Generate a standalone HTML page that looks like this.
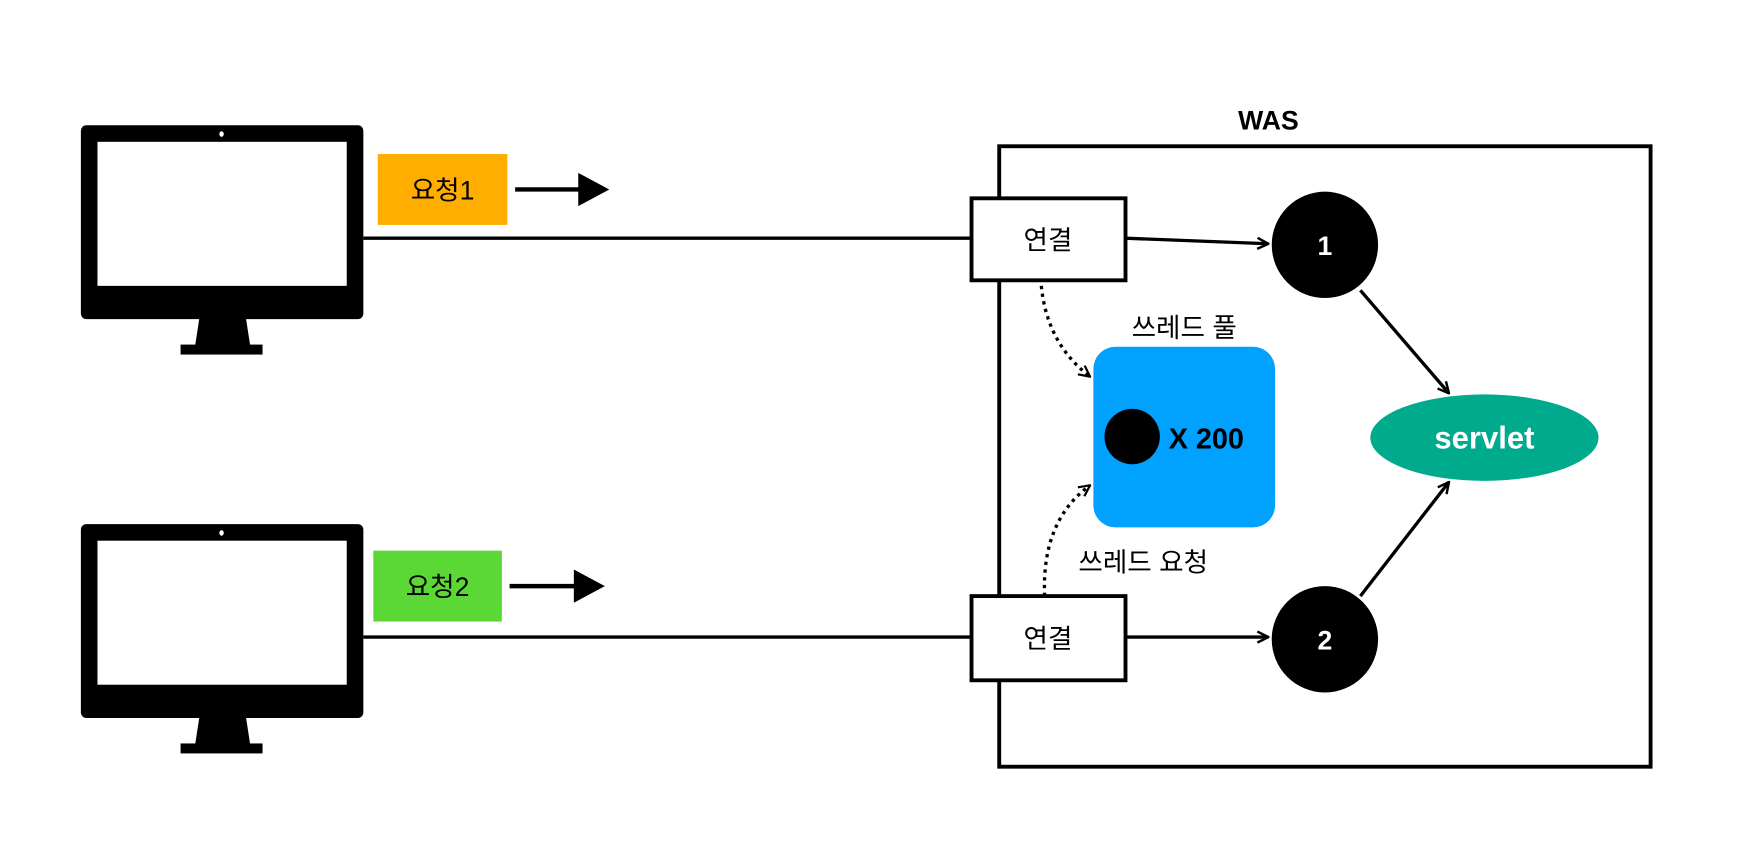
<!DOCTYPE html>
<html><head><meta charset="utf-8"><style>
html,body{margin:0;padding:0;background:#fff;}
svg{display:block;}
text{font-family:"Liberation Sans","Noto Sans CJK KR",sans-serif;}
</style></head><body>
<svg width="1737" height="862" viewBox="0 0 1568 778" preserveAspectRatio="none" xmlns="http://www.w3.org/2000/svg">
<defs>
<marker id="a" viewBox="0 0 12 12" refX="11" refY="6" markerWidth="12" markerHeight="12" markerUnits="userSpaceOnUse" orient="auto">
<path d="M1,1 L11,6 L1,11" fill="none" stroke="#000" stroke-width="2.2"/>
</marker>
<marker id="b" viewBox="0 0 12 12" refX="11" refY="6" markerWidth="12" markerHeight="12" markerUnits="userSpaceOnUse" orient="auto">
<path d="M1,1 L11,6 L1,11" fill="none" stroke="#000" stroke-width="2"/>
</marker>
<g id="mon">
<rect x="73" y="113" width="255" height="175" rx="5" fill="#000"/>
<rect x="88" y="128" width="225" height="130" fill="#fff"/>
<ellipse cx="200" cy="121" rx="2" ry="2.5" fill="#fff"/>
<polygon points="180,287 222,287 226,313 176,313" fill="#000"/>
<rect x="163" y="311" width="74" height="9" fill="#000"/>
</g>
</defs>
<use href="#mon"/>
<use href="#mon" y="360"/>
<!-- request labels -->
<rect x="341" y="139" width="117" height="64" fill="#FFAE00"/>
<text x="399.5" y="180" font-size="24" text-anchor="middle" fill="#000">요청1</text>
<rect x="337" y="497" width="116" height="64" fill="#5CD836"/>
<text x="395" y="538" font-size="24" text-anchor="middle" fill="#000">요청2</text>
<!-- sketchy arrows -->
<line x1="465" y1="171" x2="525" y2="171" stroke="#000" stroke-width="4"/>
<polygon points="522,156 550,171 522,186" fill="#000"/>
<line x1="460" y1="529" x2="521" y2="529" stroke="#000" stroke-width="4"/>
<polygon points="518,514 546,529 518,544" fill="#000"/>
<!-- connection lines -->
<line x1="328" y1="215" x2="877" y2="215" stroke="#000" stroke-width="3"/>
<line x1="328" y1="575" x2="877" y2="575" stroke="#000" stroke-width="3"/>
<!-- WAS -->
<text x="1145" y="117" font-size="24" font-weight="bold" text-anchor="middle">WAS</text>
<rect x="902" y="132" width="588" height="560" fill="none" stroke="#000" stroke-width="3.5"/>
<rect x="877" y="179" width="139" height="74" fill="#fff" stroke="#000" stroke-width="3.5"/>
<text x="946" y="225" font-size="24" text-anchor="middle">연결</text>
<rect x="877" y="538" width="139" height="76" fill="#fff" stroke="#000" stroke-width="3.5"/>
<text x="946" y="585" font-size="24" text-anchor="middle">연결</text>
<!-- thread pool -->
<text x="1069" y="304" font-size="24" text-anchor="middle">쓰레드 풀</text>
<rect x="987" y="313" width="164" height="163" rx="20" fill="#00A1FF"/>
<circle cx="1022" cy="394" r="25" fill="#000"/>
<text x="1055" y="405" font-size="26" font-weight="bold">X 200</text>
<text x="1032" y="516" font-size="24" text-anchor="middle">쓰레드 요청</text>
<path d="M940,258 Q945,310 984,340" fill="none" stroke="#000" stroke-width="3" stroke-dasharray="3,4" marker-end="url(#b)"/>
<path d="M943,538 Q940,470 984,438" fill="none" stroke="#000" stroke-width="3" stroke-dasharray="3,4" marker-end="url(#b)"/>
<!-- circles -->
<line x1="1016" y1="215" x2="1145" y2="220" stroke="#000" stroke-width="3" marker-end="url(#a)"/>
<line x1="1016" y1="575" x2="1145" y2="575" stroke="#000" stroke-width="3" marker-end="url(#a)"/>
<ellipse cx="1196" cy="221" rx="48" ry="48" fill="#000"/>
<text x="1196" y="230" font-size="24" font-weight="bold" fill="#fff" text-anchor="middle">1</text>
<ellipse cx="1196" cy="577" rx="48" ry="48" fill="#000"/>
<text x="1196" y="586" font-size="24" font-weight="bold" fill="#fff" text-anchor="middle">2</text>
<line x1="1228" y1="262" x2="1308" y2="355" stroke="#000" stroke-width="3" marker-end="url(#a)"/>
<line x1="1228" y1="538" x2="1308" y2="435" stroke="#000" stroke-width="3" marker-end="url(#a)"/>
<ellipse cx="1340" cy="395" rx="103" ry="39" fill="#00AA8D"/>
<text x="1340" y="405" font-size="28" font-weight="bold" fill="#fff" text-anchor="middle">servlet</text>
</svg>
</body></html>
